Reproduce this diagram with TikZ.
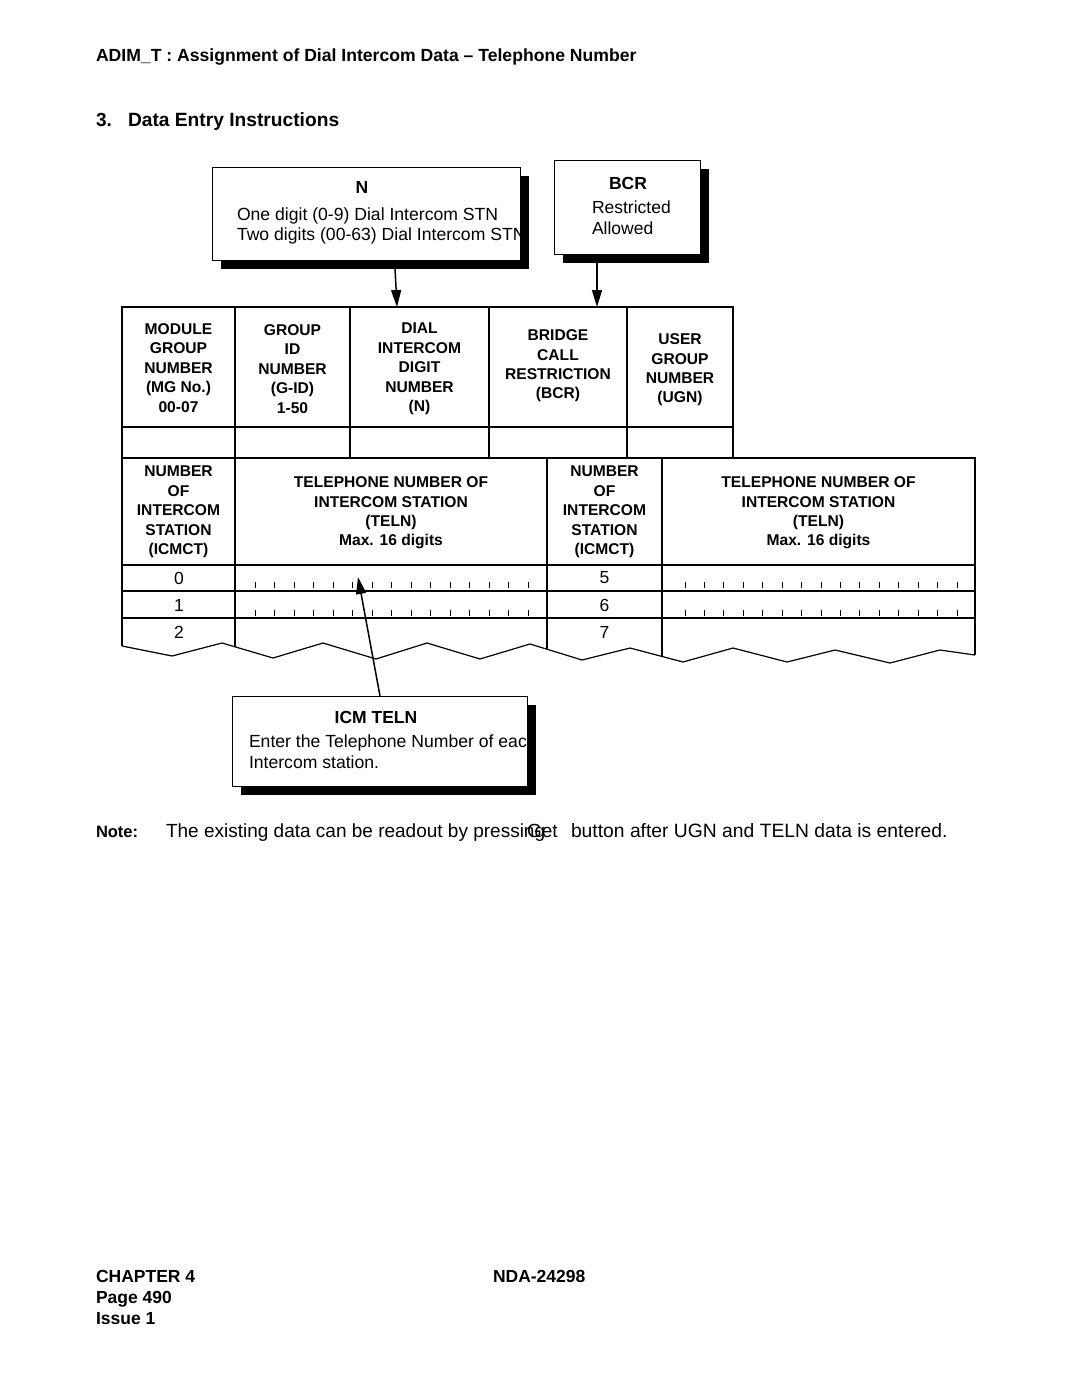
\documentclass[tikz,border=0pt]{standalone}
\usepackage{fontspec}
\setmainfont{Liberation Sans}
\usetikzlibrary{arrows.meta,shadows}
\begin{document}
\begin{tikzpicture}[x=1pt,y=-1pt,
  txt/.style={inner sep=0pt, outer sep=0pt},
  lbl/.style={txt, anchor=base west},
  hdr/.style={txt, align=center, font=\fontsize{15.6}{19.4}\selectfont\bfseries},
  num/.style={txt, font=\fontsize{17.5}{21}\selectfont},
  callout/.style={draw=black, line width=1.4pt, fill=white, inner sep=0pt, anchor=north west,
    drop shadow={shadow xshift=8pt, shadow yshift=-8pt, fill=black, opacity=1}},
  arr/.style={line width=1.5pt, -{Triangle[length=17pt,width=10pt]}},
  outer/.style={line width=1.6pt},
  inner/.style={line width=1.2pt},
  tick/.style={line width=0.8pt}
]
\useasboundingbox[fill=white] (0,0) rectangle (1080,1397);

% headings
\node[lbl, font=\fontsize{17.6}{21}\selectfont\bfseries] (title) at (96,62) {ADIM\_T : Assignment of Dial Intercom Data – Telephone Number};
\node[lbl, font=\fontsize{19}{23}\selectfont\bfseries] (secno) at (96,126) {3.};
\node[lbl, font=\fontsize{19.2}{23}\selectfont\bfseries] (sec) at (128,126) {Data Entry Instructions};

% N callout
\node[callout, minimum width=308pt, minimum height=93pt] (nbox) at (212,167) {};
\begin{scope}
  \clip (nbox.south west) rectangle (nbox.north east);
  \node[txt, anchor=base, font=\fontsize{17.5}{21}\selectfont\bfseries] (ntitle) at (362,193) {N};
  \node[lbl, font=\fontsize{17.6}{21}\selectfont] (nl1) at (237,220) {One digit (0-9) Dial Intercom STN};
  \node[lbl, font=\fontsize{17.6}{21}\selectfont] (nl2) at (237,240) {Two digits (00-63) Dial Intercom STN};
\end{scope}

% BCR callout
\node[callout, minimum width=146pt, minimum height=94pt] (bbox) at (554,160) {};
\node[txt, anchor=base, font=\fontsize{17.5}{21}\selectfont\bfseries] (btitle) at (628,189) {BCR};
\node[lbl, font=\fontsize{17.5}{21}\selectfont] (bl1) at (592,213) {Restricted};
\node[lbl, font=\fontsize{17.5}{21}\selectfont] (bl2) at (592,234) {Allowed};

% upper table
\draw[outer] (122,307) rectangle (733,458);
\draw[inner] (122,427) -- (733,427);
\foreach \x in {235,350,489,627} \draw[inner] (\x,307) -- (\x,458);
\node[hdr] (hmg) at (178.5,368) {MODULE\\GROUP\\NUMBER\\(MG No.)\\00-07};
\node[hdr] (hgid) at (292.5,369) {GROUP\\ID\\NUMBER\\(G-ID)\\1-50};
\node[hdr] (hn) at (419.5,369) {DIAL\\INTERCOM\\DIGIT\\NUMBER\\(N)};
\node[hdr] (hbcr) at (558,366) {BRIDGE\\CALL\\RESTRICTION\\(BCR)};
\node[hdr] (hugn) at (680,370) {USER\\GROUP\\NUMBER\\(UGN)};

% arrows from callouts
\coordinate (nfrom) at (395,268);
\coordinate (nto) at (397,307);
\coordinate (bfrom) at (597,262);
\coordinate (bto) at (597,307);
\draw[arr] (nfrom) -- (nto);
\draw[arr] (bfrom) -- (bto);

% lower table
\draw[outer] (122,646) -- (122,458) -- (975,458) -- (975,655);
\draw[outer] (122,565) -- (975,565);
\draw[inner] (122,591) -- (975,591);
\draw[inner] (122,618) -- (975,618);
\begin{scope}
  \clip (100,400) -- (122,646) -- (172,656) -- (222,643) -- (273,658) -- (323,643) -- (376,659) -- (427,643) -- (480,659) -- (530,644) -- (582,660) -- (630,648) -- (683,662) -- (733,648) -- (787,662) -- (835,650) -- (890,663) -- (940,650) -- (975,655) -- (1000,400) -- cycle;
  \foreach \x in {235,547,662} \draw[inner] (\x,458) -- (\x,700);
\end{scope}
\draw[inner, line join=miter] (122,646) -- (172,656) -- (222,643) -- (273,658) -- (323,643) -- (376,659) -- (427,643) -- (480,659) -- (530,644) -- (582,660) -- (630,648) -- (683,662) -- (733,648) -- (787,662) -- (835,650) -- (890,663) -- (940,650) -- (975,655);

\node[hdr] (hic1) at (178.5,512) {NUMBER\\OF\\INTERCOM\\STATION\\(ICMCT)};
\node[hdr] (hte1) at (391,513) {TELEPHONE NUMBER OF\\INTERCOM STATION\\(TELN)\\Max. 16 digits};
\node[hdr] (hic2) at (604.5,512) {NUMBER\\OF\\INTERCOM\\STATION\\(ICMCT)};
\node[hdr] (hte2) at (818.5,513) {TELEPHONE NUMBER OF\\INTERCOM STATION\\(TELN)\\Max. 16 digits};

\node[num] (r0) at (179,578) {0};
\node[num] (r1) at (179,605) {1};
\node[num] (r2) at (179,632) {2};
\node[num] (r5) at (604.5,578) {5};
\node[num] (r6) at (604.5,605) {6};
\node[num] (r7) at (604.5,632) {7};

% digit ticks
\foreach \i in {0,...,14} {
  \draw[tick] (255+19.5*\i,582) -- (255+19.5*\i,588);
  \draw[tick] (255+19.5*\i,610) -- (255+19.5*\i,616);
  \draw[tick] (685+19.43*\i,582) -- (685+19.43*\i,588);
  \draw[tick] (685+19.43*\i,610) -- (685+19.43*\i,616);
}

% ICM TELN callout
\node[callout, minimum width=295pt, minimum height=90pt] (ibox) at (232,696) {};
\begin{scope}
  \clip (ibox.south west) rectangle (ibox.north east);
  \node[txt, anchor=base, font=\fontsize{17.5}{21}\selectfont\bfseries] (ititle) at (376,723) {ICM TELN};
  \node[lbl, font=\fontsize{17.6}{21}\selectfont] (il1) at (249,747) {Enter the Telephone Number of each};
  \node[lbl, font=\fontsize{17.6}{21}\selectfont] (il2) at (249,768) {Intercom station.};
\end{scope}
\coordinate (ifrom) at (380,696);
\coordinate (ito) at (358,577);
\draw[arr] (ifrom) -- (ito);

% note
\node[lbl, font=\fontsize{16.5}{20}\selectfont\bfseries] (note) at (96,837) {Note:};
\node[lbl, font=\fontsize{19}{23}\selectfont] (nt1) at (166,837) {The existing data can be readout by pressing};
\node[lbl, font=\fontsize{19}{23}\selectfont] (nt2) at (527,837) {Get};
\node[lbl, font=\fontsize{19.3}{23}\selectfont] (nt3) at (571,837) {button after UGN and TELN data is entered.};

% footer
\node[lbl, font=\fontsize{17.5}{21}\selectfont\bfseries] (ch) at (96,1282) {CHAPTER 4};
\node[lbl, font=\fontsize{17.5}{21}\selectfont\bfseries] (pg) at (96,1303) {Page 490};
\node[lbl, font=\fontsize{17.5}{21}\selectfont\bfseries] (is) at (96,1324) {Issue 1};
\node[lbl, font=\fontsize{17.5}{21}\selectfont\bfseries] (nda) at (493,1282) {NDA-24298};
\end{tikzpicture}
\end{document}
